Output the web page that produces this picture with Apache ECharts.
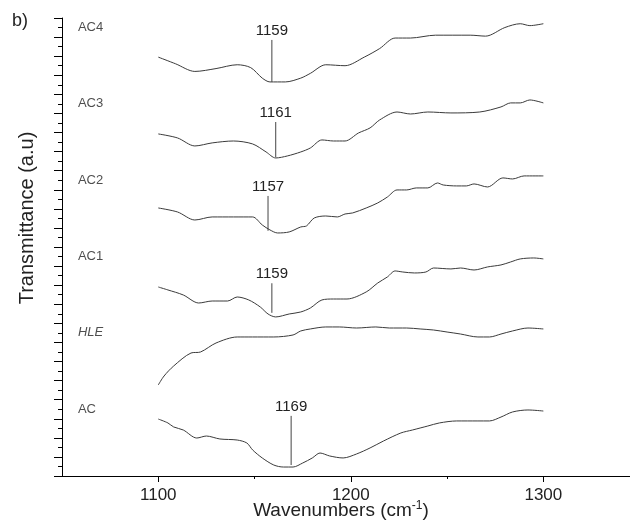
<!DOCTYPE html>
<html>
<head>
<meta charset="utf-8">
<script src="https://cdn.jsdelivr.net/npm/echarts@6/dist/echarts.min.js"></script>
<style>
html, body { margin: 0; padding: 0; background: #fff; }
#tuxing { width: 630px; height: 524px; }
</style>
</head>
<body>
<div id="tuxing"></div>
<script>
// spectra, [wavenumber, offset transmittance (a.u)]
var ac4 = [[1100,43.9],[1109,43.2],[1119,42.4],[1130,42.7],[1141,43.1],[1148,42.8],[1154,41.7],[1158,41.3],[1166,41.3],[1174,41.7],[1179,42.2],[1187,43.1],[1197,43.0],[1207,43.9],[1215,44.8],[1223,45.9],[1231,45.9],[1244,46.2],[1262,46.2],[1270,46.1],[1280,47.0],[1288,47.4],[1293,47.2],[1300,47.4]];
var ac3 = [[1100,35.85],[1110,35.43],[1119,34.59],[1128,34.91],[1139,35.11],[1149,34.8],[1156,33.96],[1161,33.33],[1167,33.54],[1174,33.96],[1179,34.38],[1185,35.22],[1191,35.11],[1197,35.11],[1204,35.95],[1210,36.48],[1215,37.32],[1224,38.15],[1231,37.94],[1240,38.15],[1252,38.05],[1267,38.15],[1278,38.68],[1283,39.1],[1288,39.1],[1293,39.41],[1300,39.1]];
var ac2 = [[1100,28.09],[1110,27.67],[1119,26.83],[1128,27.15],[1139,27.15],[1149,27.15],[1154,26.31],[1158,25.79],[1162,25.47],[1168,25.58],[1174,26.1],[1177,26.21],[1181,27.04],[1187,27.25],[1193,27.15],[1197,27.46],[1201,27.57],[1208,28.09],[1214,28.62],[1219,29.24],[1224,29.98],[1229,29.98],[1234,30.19],[1240,30.19],[1245,30.71],[1248,30.5],[1255,30.4],[1260,30.4],[1264,30.61],[1271,30.29],[1279,31.24],[1284,31.13],[1290,31.45],[1300,31.45]];
var ac1 = [[1100,19.81],[1105,19.5],[1113,18.97],[1121,18.13],[1128,18.34],[1136,18.34],[1141,18.76],[1147,18.45],[1153,17.71],[1157,16.98],[1161,16.67],[1168,16.98],[1174,17.19],[1179,17.61],[1185,18.45],[1191,18.55],[1198,18.55],[1208,19.29],[1214,20.23],[1219,20.86],[1223,21.49],[1227,21.38],[1233,21.28],[1239,21.38],[1243,21.8],[1252,21.7],[1257,21.8],[1264,21.59],[1271,21.91],[1278,22.12],[1283,22.43],[1288,22.75],[1295,22.85],[1300,22.75]];
var hle = [[1100,9.54],[1103,10.48],[1108,11.53],[1117,12.89],[1122,13.0],[1130,13.94],[1141,14.57],[1149,14.57],[1160,14.57],[1170,14.78],[1174,15.2],[1179,15.41],[1187,15.62],[1194,15.62],[1203,15.51],[1213,15.62],[1220,15.51],[1229,15.51],[1236,15.41],[1243,15.3],[1250,15.09],[1257,14.88],[1266,14.57],[1272,14.57],[1278,14.88],[1284,15.2],[1292,15.51],[1300,15.41]];
var ac = [[1100,5.97],[1105,5.56],[1108,5.14],[1113,4.82],[1120,3.98],[1125,4.19],[1132,3.88],[1141,3.77],[1146,3.46],[1149,2.73],[1154,1.89],[1160,1.15],[1165,0.94],[1170,0.94],[1175,1.36],[1180,1.89],[1184,2.41],[1189,2.1],[1196,1.89],[1203,2.31],[1210,2.94],[1217,3.67],[1226,4.51],[1232,4.82],[1240,5.24],[1246,5.56],[1255,5.77],[1266,5.77],[1272,5.77],[1278,6.18],[1284,6.71],[1292,6.92],[1300,6.81]];

var sampleNames = ['AC4', 'AC3', 'AC2', 'AC1', 'HLE', 'AC'];
var sampleNameY = [47, 39, 31, 23, 15, 7];

// peak markers
var peakWn = [1159, 1161, 1157, 1159, 1169];
var peakTop = [45.7, 37.1, 29.35, 20.2, 6.3];
var peakBottom = [41.3, 33.4, 25.7, 17.1, 1.15];

var xTickLabels = [1100, 1200, 1300];
var xMinorTicks = [1150, 1250];

var myChart = echarts.init(document.getElementById('tuxing'));
var font = 'Liberation Sans, Arial, sans-serif';

var series = [];
[ac4, ac3, ac2, ac1, hle, ac].forEach(function(d) {
	series.push({
		type: 'line',
		data: d,
		showSymbol: false,
		smooth: 0.3,
		silent: true,
		lineStyle: { color: '#3a3a3a', width: 1 }
	});
});

peakWn.forEach(function(w, i) {
	series.push({
		type: 'line',
		silent: true,
		symbol: 'circle',
		symbolSize: 1,
		itemStyle: { color: 'rgba(0,0,0,0)' },
		lineStyle: { color: '#444', width: 1 },
		data: [{
			value: [w, peakTop[i]],
			label: {
				show: true,
				position: 'top',
				distance: 1,
				formatter: String(w),
				color: '#222',
				fontSize: 15,
				fontFamily: font
			}
		}, [w, peakBottom[i]]]
	});
});

// sample names
series.push({
	type: 'scatter',
	silent: true,
	symbolSize: 1,
	itemStyle: { color: 'rgba(0,0,0,0)' },
	data: sampleNames.map(function(n, i) {
		return {
			value: [1058, sampleNameY[i]],
			label: {
				show: true,
				position: 'right',
				distance: 0,
				formatter: n,
				color: '#222',
				fontSize: 13,
				fontFamily: font,
				fontStyle: n == 'HLE' ? 'italic' : 'normal'
			}
		};
	})
});

option = {
	animation: false,
	grid: { left: 62, right: 0, top: 18, bottom: 48, outerBoundsMode: 'none' },
	xAxis: [{
		type: 'value',
		min: 1050,
		max: 1345,
		axisLine: { lineStyle: { color: '#000', width: 1 } },
		axisTick: { customValues: xTickLabels, length: 6, lineStyle: { color: '#000' } },
		axisLabel: {
			customValues: xTickLabels,
			color: '#222',
			fontSize: 17,
			fontFamily: font,
			margin: 11,
			formatter: function(v) { return String(v); }
		},
		splitLine: { show: false }
	}, {
		type: 'value',
		min: 1050,
		max: 1345,
		position: 'bottom',
		axisLine: { show: false },
		axisTick: { customValues: xMinorTicks, length: 3, lineStyle: { color: '#000' } },
		axisLabel: { show: false },
		splitLine: { show: false }
	}],
	yAxis: {
		type: 'value',
		min: 0,
		max: 48,
		interval: 2,
		axisLine: { show: true, lineStyle: { color: '#000', width: 1 } },
		axisTick: { show: true, length: 8, lineStyle: { color: '#000' } },
		minorTick: { show: true, splitNumber: 2, length: 4, lineStyle: { color: '#000' } },
		axisLabel: { show: false },
		splitLine: { show: false }
	},
	graphic: [{
		type: 'text',
		left: 12,
		top: 12,
		style: { text: 'b)', fill: '#222', font: '18px ' + font }
	}, {
		type: 'text',
		x: 27,
		y: 218,
		rotation: Math.PI / 2,
		style: { text: 'Transmittance (a.u)', fill: '#222', font: '20px ' + font, align: 'center', verticalAlign: 'middle' }
	}, {
		type: 'text',
		x: 341,
		y: 511,
		style: {
			text: 'Wavenumbers (cm{sup|-1})',
			fill: '#222',
			font: '19px ' + font,
			align: 'center',
			verticalAlign: 'middle',
			rich: { sup: { fontSize: 12, fontFamily: font, padding: [0, 0, 10, 0] } }
		}
	}],
	series: series
};
myChart.setOption(option);
</script>
</body>
</html>
